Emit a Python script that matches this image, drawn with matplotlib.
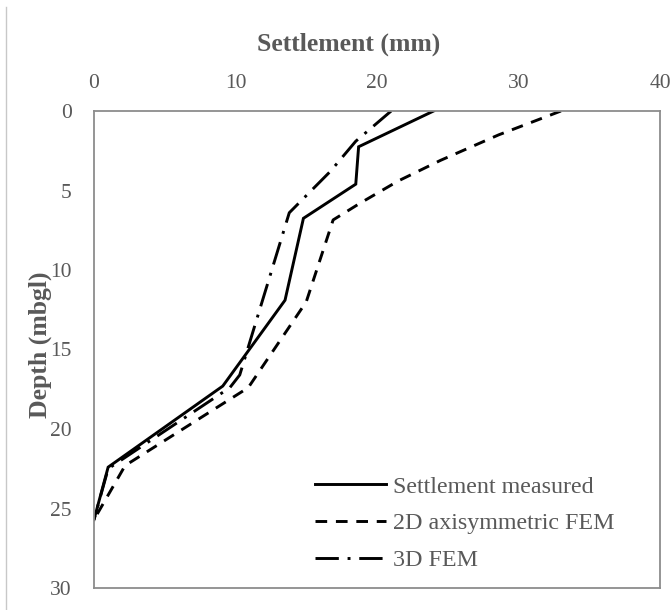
import matplotlib
matplotlib.use("Agg")
import matplotlib.pyplot as plt
from matplotlib.lines import Line2D

# Data (settlement mm, depth m)
measured_x = [24.0, 18.7, 18.5, 14.8, 13.5, 9.1, 1.0, 0.0]
measured_y = [0.0, 2.25, 4.6, 6.75, 11.9, 17.3, 22.4, 25.7]

fem2d_x = [33.0, 28.6, 24.5, 21.5, 18.8, 16.9, 15.0, 10.9, 2.2, 0.0]
fem2d_y = [0.0, 1.5, 3.1, 4.4, 5.8, 6.85, 12.0, 17.4, 22.3, 25.7]

fem3d_x = [21.0, 18.5, 16.7, 13.8, 10.3, 9.6, 1.0, 0.0]
fem3d_y = [0.0, 1.9, 3.8, 6.4, 16.6, 17.4, 22.5, 25.7]

labels = ["Settlement measured", "2D axisymmetric FEM", "3D FEM"]
x_ticks = [0, 10, 20, 30, 40]
y_ticks = [0, 5, 10, 15, 20, 25, 30]

W, H = 671, 610
fig = plt.figure(figsize=(W / 100, H / 100), dpi=100)
ax = fig.add_axes([94 / W, 1 - 588 / H, (660 - 94) / W, (588 - 111) / H])

txt = "#595959"
serif = ["Liberation Serif", "DejaVu Serif"]
lw = 2.1

ax.plot(measured_x, measured_y, color="black", lw=lw, linestyle="-",
        solid_joinstyle="miter", label=labels[0])
ax.plot(fem2d_x, fem2d_y, color="black", lw=lw, linestyle=(0, (4, 3)),
        dash_capstyle="butt", label=labels[1])
ax.plot(fem3d_x, fem3d_y, color="black", lw=lw, linestyle=(0, (8, 3, 1, 3)),
        dash_capstyle="butt", label=labels[2])

ax.set_xlim(0, 40)
ax.set_ylim(30, 0)
ax.xaxis.tick_top()
ax.xaxis.set_label_position("top")
ax.set_xticks(x_ticks)
ax.set_yticks(y_ticks)
ax.tick_params(axis="x", length=0, labelsize=15.5, labelcolor=txt, pad=13)
ax.tick_params(axis="y", length=0, labelsize=15.5, labelcolor=txt, pad=16)
for lab in ax.get_xticklabels() + ax.get_yticklabels():
    lab.set_family(serif)
for sp in ax.spines.values():
    sp.set_color("#8c8c8c")
    sp.set_linewidth(1.3)

fig.text(349 / W, 1 - 44 / H, "Settlement (mm)", ha="center", va="center",
         fontsize=18.5, fontweight="bold", color=txt, family=serif)
fig.text(40 / W, 1 - 345 / H, "Depth (mbgl)", ha="center", va="center",
         rotation=90, fontsize=18.5, fontweight="bold", color=txt, family=serif)

leg = ax.legend(loc="lower left", bbox_to_anchor=((315 - 94) / (660 - 94), (588 - 571) / (588 - 111)),
                frameon=False, prop={"family": serif, "size": 17.3},
                handlelength=2.95, handletextpad=0.3, labelspacing=0.62,
                borderaxespad=0, borderpad=0)
for t in leg.get_texts():
    t.set_color(txt)

# left edge of the chart frame
fig.add_artist(Line2D([6 / W, 6 / W], [0, 1 - 7 / H], color="#c8c8c8", lw=1.0))

fig.savefig("out.png", dpi=100)
